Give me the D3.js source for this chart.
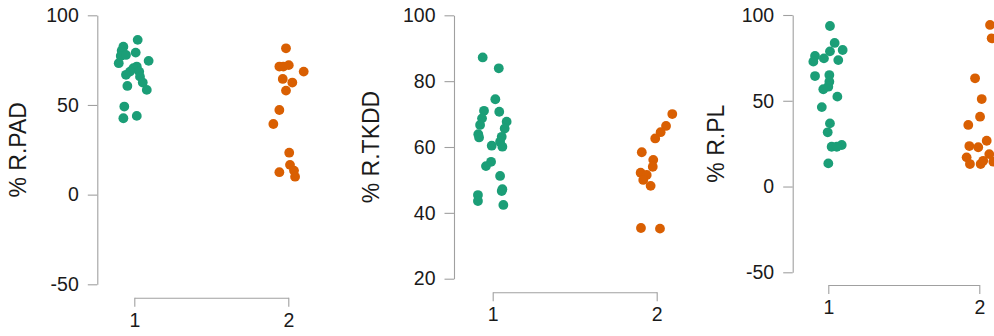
<!DOCTYPE html>
<html>
<head>
<meta charset="utf-8">
<script src="https://cdn.jsdelivr.net/npm/d3@7"></script>
<style>
  body { margin: 0; background: #fff; }
  svg { display: block; }
</style>
</head>
<body>
<svg id="chart" width="994" height="336"></svg>
<script>
// group labels on the x axis
const groups = [1, 2];

// % R.PAD
const padY1 = [86.3, 82.5, 80.3, 77.3, 77.9, 79.2, 73.3, 74.6, 71.4, 70.5, 68.6, 66.8, 68.6, 65.8, 62.5, 60.6, 58.4, 49.1, 42.6, 43.9];
const padX1 = [1.022, 0.929, 0.918, 0.912, 0.946, 1.009, 0.899, 1.093, 1.016, 0.994, 0.972, 0.946, 1.032, 1.037, 1.055, 0.955, 1.081, 0.935, 0.929, 1.016];
const padY2 = [81.6, 71.4, 71.4, 72.2, 68.6, 64.5, 62.5, 58.0, 47.2, 39.4, 23.4, 16.6, 12.5, 13.4, 10.0];
const padX2 = [1.985, 1.942, 1.968, 2.003, 2.10, 1.964, 2.026, 1.985, 1.942, 1.903, 2.006, 2.011, 1.942, 2.037, 2.044];

// % R.TKDD
const tkddY1 = [87.2, 83.9, 74.5, 71.0, 70.7, 68.7, 66.7, 67.7, 65.6, 63.9, 62.9, 63.1, 60.4, 61.6, 60.1, 55.5, 54.2, 51.2, 47.2, 46.6, 45.4, 43.6, 42.4];
const tkddX1 = [0.939, 1.037, 1.016, 0.947, 1.040, 0.935, 0.923, 1.085, 1.073, 0.912, 0.917, 1.055, 0.994, 1.045, 1.059, 0.990, 0.959, 1.045, 1.059, 1.055, 0.910, 0.910, 1.065];
const tkddY2 = [70.0, 66.4, 64.5, 62.6, 58.4, 56.1, 54.0, 52.2, 51.5, 50.0, 48.2, 35.4, 35.2];
const tkddX2 = [2.095, 2.057, 2.024, 1.991, 1.909, 1.979, 1.976, 1.902, 1.939, 1.918, 1.963, 1.904, 2.020];

// % R.PL
const plY1 = [93.6, 83.7, 78.8, 79.6, 76.1, 74.7, 73.7, 72.8, 64.4, 65.0, 61.1, 58.2, 56.7, 52.4, 46.3, 36.8, 31.6, 23.2, 24.2, 23.2, 13.5];
const plX1 = [1.011, 1.042, 1.011, 1.095, 0.912, 0.971, 1.066, 0.901, 0.912, 1.007, 1.007, 1.0, 0.967, 1.060, 0.957, 1.011, 0.996, 1.022, 1.089, 1.056, 1.0];
const plY2 = [94.2, 86.4, 63.1, 51.0, 40.7, 35.9, 23.6, 22.9, 26.7, 17.0, 13.1, 13.1, 15.0, 18.9, 14.5];
const plX2 = [2.071, 2.082, 1.972, 2.016, 2.005, 1.927, 1.934, 1.993, 2.049, 1.916, 1.938, 2.009, 2.026, 2.066, 2.093];

const colors = ["#1b9e77", "#d95f02"];

const panels = [
  { label: "% R.PAD", yDomain: [-50, 100], yTicks: [-50, 0, 50, 100],
    axisX: 97.3, yTop: 15.3, yBot: 284.3, xAxisY: 297.7, x1: 134.3, x2: 288.3, labX: 17.5,
    series: [[padX1, padY1], [padX2, padY2]] },
  { label: "% R.TKDD", yDomain: [20, 100], yTicks: [20, 40, 60, 80, 100],
    axisX: 454, yTop: 15.3, yBot: 278.7, xAxisY: 292.3, x1: 492.7, x2: 656.7, labX: 371,
    series: [[tkddX1, tkddY1], [tkddX2, tkddY2]] },
  { label: "% R.PL", yDomain: [-50, 100], yTicks: [-50, 0, 50, 100],
    axisX: 792.7, yTop: 15, yBot: 272.3, xAxisY: 285, x1: 828.3, x2: 979.3, labX: 716,
    series: [[plX1, plY1], [plX2, plY2]] }
];

const svg = d3.select("#chart");
const font = "'Liberation Sans', Arial, sans-serif";
const axisColor = "#a0a0a0";

panels.forEach(p => {
  const y = d3.scaleLinear().domain(p.yDomain).range([p.yBot, p.yTop]);
  const x = d3.scaleLinear().domain([1, 2]).range([p.x1, p.x2]);
  const g = svg.append("g");

  // y axis (plain hyphen for negatives, like R)
  const ya = g.append("g")
    .attr("transform", `translate(${p.axisX},0)`)
    .call(d3.axisLeft(y).tickValues(p.yTicks).tickFormat(d => String(d))
      .tickSize(9.5).tickSizeOuter(0).tickPadding(9));

  // x axis, sits a bit below the plot
  const xa = g.append("g")
    .attr("transform", `translate(0,${p.xAxisY})`)
    .call(d3.axisBottom(x).tickValues(groups).tickFormat(d => String(d))
      .tickSize(9).tickSizeOuter(0).tickPadding(6));

  [ya, xa].forEach(a => {
    a.selectAll(".domain, .tick line").attr("stroke", axisColor).attr("stroke-width", 1.1);
    a.selectAll("text").attr("fill", "#1a1a1a").style("font-family", font).style("font-size", "19.5px");
  });

  // y title
  g.append("text")
    .attr("transform", `translate(${p.labX},${(p.yTop + p.yBot) / 2}) rotate(-90)`)
    .attr("text-anchor", "middle")
    .attr("dominant-baseline", "central")
    .style("font-family", font)
    .style("font-size", "23px")
    .attr("fill", "#1a1a1a")
    .text(p.label);

  // points
  p.series.forEach(([xs, ys], i) => {
    g.selectAll(null)
      .data(ys.map((v, j) => ({ x: xs[j], y: v })))
      .enter().append("circle")
      .attr("cx", d => x(d.x))
      .attr("cy", d => y(d.y))
      .attr("r", 4.9)
      .attr("fill", colors[i]);
  });
});
</script>
</body>
</html>
